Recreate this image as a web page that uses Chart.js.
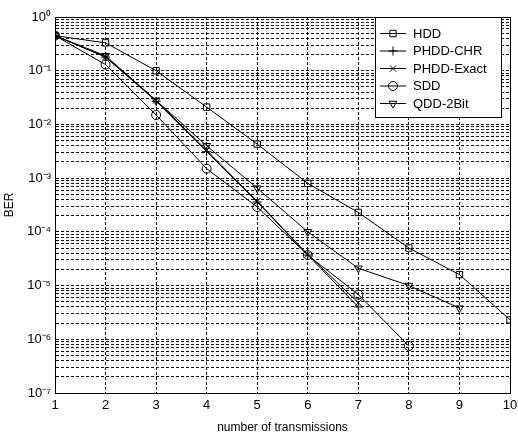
<!DOCTYPE html>
<html>
<head>
<meta charset="utf-8">
<script src="https://cdn.jsdelivr.net/npm/chart.js@4"></script>
<style>
  html, body { margin: 0; padding: 0; background: #fff; }
  #wrap { width: 518px; height: 435px; }
</style>
</head>
<body>
<div id="wrap"><canvas id="chart" width="518" height="435"></canvas></div>
<script>
// values
const transmissions = [1, 2, 3, 4, 5, 6, 7, 8, 9, 10];
const hdd       = [0.45, 0.33, 0.10, 0.021, 0.0043, 8.0e-4, 2.3e-4, 5.0e-5, 1.6e-5, 2.3e-6];
const phddChr   = [0.45, 0.18, 0.027, 0.0031, 3.6e-4, 3.7e-5, 4.0e-6];
const phddExact = [0.45, 0.18, 0.028, 0.0033, 3.7e-4, 3.8e-5, 4.8e-6];
const sdd       = [0.45, 0.13, 0.015, 0.0015, 2.9e-4, 3.7e-5, 6.8e-6, 7.5e-7];
const qdd2bit   = [0.45, 0.19, 0.028, 0.0040, 6.5e-4, 1.0e-4, 2.1e-5, 1.0e-5, 3.8e-6];
const seriesNames = ["HDD", "PHDD-CHR", "PHDD-Exact", "SDD", "QDD-2Bit"];
const yTickLabels = ["10⁰", "10⁻¹", "10⁻²", "10⁻³", "10⁻⁴", "10⁻⁵", "10⁻⁶", "10⁻⁷"];

const FONT = "'Liberation Sans', Arial, sans-serif";

function pts(arr) {
  return arr.map((v, i) => ({ x: transmissions[i], y: v }));
}

const markers = [
  { style: "rect", rot: 0 },
  { style: "cross", rot: 0 },
  { style: "crossRot", rot: 0 },
  { style: "circle", rot: 0 },
  { style: "triangle", rot: 180 }
];
const allSeries = [hdd, phddChr, phddExact, sdd, qdd2bit];

const datasets = allSeries.map((s, i) => ({
  label: seriesNames[i],
  data: pts(s),
  borderColor: "#000",
  borderWidth: 1,
  backgroundColor: "rgba(0,0,0,0)",
  pointStyle: markers[i].style,
  pointRotation: markers[i].rot,
  pointRadius: 4.5,
  pointBorderColor: "#000",
  pointBorderWidth: 1,
  pointBackgroundColor: "rgba(0,0,0,0)",
  fill: false,
  tension: 0
}));

// frame round the plot + boxed legend inside it
const framePlugin = {
  id: "frame",
  afterDraw(chart) {
    const ctx = chart.ctx;
    const a = chart.chartArea;
    ctx.save();
    ctx.strokeStyle = "#000";
    ctx.lineWidth = 1;
    ctx.strokeRect(a.left + 0.5, a.top + 0.5, a.right - a.left, a.bottom - a.top);

    // legend box
    const bx = 375, by = a.top, bw = 126, bh = 100;
    ctx.fillStyle = "#fff";
    ctx.fillRect(bx, by, bw, bh);
    ctx.strokeRect(bx + 0.5, by + 0.5, bw, bh);
    ctx.font = "13px " + FONT;
    ctx.textBaseline = "middle";
    chart.data.datasets.forEach((ds, i) => {
      const yy = by + 16 + i * 17.5;
      ctx.strokeStyle = "#000";
      ctx.beginPath();
      ctx.moveTo(380, yy + 0.5);
      ctx.lineTo(406, yy + 0.5);
      ctx.stroke();
      ctx.fillStyle = "rgba(0,0,0,0)";
      Chart.helpers.drawPoint(ctx, {
        pointStyle: ds.pointStyle,
        rotation: ds.pointRotation,
        radius: 4.5,
        borderWidth: 1
      }, 393, yy + 0.5);
      ctx.fillStyle = "#000";
      ctx.fillText(ds.label, 413, yy + 1);
    });
    ctx.restore();
  }
};

new Chart(document.getElementById("chart"), {
  type: "line",
  data: { datasets: datasets },
  options: {
    responsive: false,
    animation: false,
    layout: { padding: { left: 2, right: 0, top: 17, bottom: 0 } },
    plugins: {
      legend: { display: false },
      tooltip: { enabled: false }
    },
    scales: {
      x: {
        type: "linear",
        min: 1,
        max: 10,
        afterFit(scale) {
          scale.height = 42;
          scale.paddingRight = 8;
        },
        ticks: {
          stepSize: 1,
          color: "#000",
          font: { family: FONT, size: 13 },
          padding: 5
        },
        grid: { color: "#111", lineWidth: 1, drawTicks: false },
        border: { display: true, color: "#000", dash: [3, 2] },
        title: {
          display: true,
          text: "number of transmissions",
          color: "#000",
          font: { family: FONT, size: 12 },
          padding: { top: 4, bottom: 0 }
        }
      },
      y: {
        type: "logarithmic",
        min: 1e-7,
        max: 1,
        afterFit(scale) { scale.width = 53; },
        afterBuildTicks(scale) {
          const t = [];
          for (let e = -7; e <= 0; e++) {
            for (let m = 1; m <= 9; m++) {
              const v = m * Math.pow(10, e);
              if (v <= 1.0000001) t.push({ value: v });
            }
          }
          scale.ticks = t;
        },
        ticks: {
          autoSkip: false,
          color: "#000",
          font: { family: FONT, size: 13 },
          padding: 4,
          callback(value) {
            const e = Math.log10(value);
            if (Math.abs(e - Math.round(e)) < 1e-6) {
              return yTickLabels[-Math.round(e)];
            }
            return "";
          }
        },
        grid: { color: "#111", lineWidth: 1, drawTicks: false },
        border: { display: true, color: "#000", dash: [3, 2] },
        title: {
          display: true,
          text: "BER",
          color: "#000",
          font: { family: FONT, size: 12 },
          padding: { top: 0, bottom: 2 }
        }
      }
    }
  },
  plugins: [framePlugin]
});
</script>
</body>
</html>
